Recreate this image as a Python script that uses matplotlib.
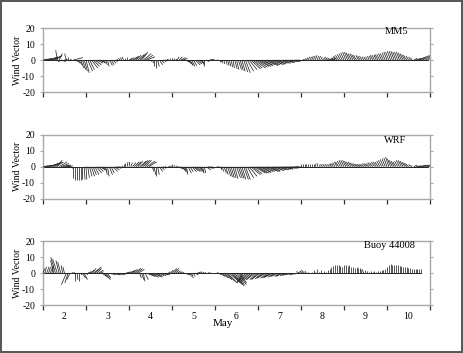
import numpy as np
import matplotlib
matplotlib.use("Agg")
import matplotlib.pyplot as plt
from matplotlib.patches import Rectangle
from matplotlib.collections import LineCollection

plt.rcParams['font.family'] = ['Liberation Serif', 'DejaVu Serif']

nan = np.nan
# hourly time axis, May day number, starting May 2 00:00
days = np.arange(2.0, 11.0, 1 / 24)

# ---------------- MM5 (one row per day, 24 hourly values) ----------------
mm5_u = [
    3, 4, 5, 5, 5, 5, 5, 4, -1, 2, 3, -3, 2, -1, 0, 1, 2, 6, 2, 2, 2, 2, 2, 2,
    2, 3, 3, 4, 4, 4, 4, 3, 2, 2, 1, 1, 1, 2, 2, 2, 2, -1, -1, -1, -1, -1, 0, 0,
    2, 2, 3, 3, 3, 4, 4, 4, 5, 5, 5, 2, 1, 1, 0, 0, 1, 2, 2, 2, 2, 1, 0, 0,
    0, 0.5, 1, 1, 2, 3, 3, 3, 3, 3, 2, 2, 2, 3, 3, 3, 2, 1, 0, 2, 3, 3, 3, 2,
    3, 2, 2, 0.5, 0.5, 0.5, 1, 1, 1, 1, 1, 1.5, 1.5, 2, 2, 2, 2.5, 3, 4, 5, 6, 6, 7, 7,
    7, 7, 7, 6, 6, 7, 6, 6, 6, 6, 6, 5, 5, 5, 5, 5, 5, 4, 4, 4, 4, 4, 3, 3,
    1, 1, 1, 1, 1, 1, 1, 1, 1, 1, 1, 1, 2, 2, 2, 3, 3, 3, -1, -1, -2, -2, -2, -2,
    -2, -2, -2, -2, -2, -2, -2, -2, -1.5, -1.5, -1.5, -1, -1, -1, -1, -1, -1.5, -1.5, -1.5, -2, -2, -2, -2, -2,
    -2, -2, -2, -2, -2, -2, -2, -2, -2, -2, -2, -2, -1.5, -1, -1, 2, 3, 3, 3, 3, 3, 3, 3, 3,
]
mm5_v = [
    0.5, 1, 1, 1.5, 2, 2, 2.5, 3, 6, 4, -1, -1, 0.5, 4, 2, 0.5, 0, 1.5, -1, -2, -3, -5, -6, -7,
    -8, -7, -6, -5, -4, -3, -2, -1, -1, -2, -2, -3, -4, -3.5, -3, -2, -1, 0, 0.5, 1, 1.5, 2, 1, 2,
    1, 1.5, 2, 2.5, 3, 3.5, 4, 5, 4, 3, 2, 0, -1, -2, -4, -5, -4, -3, -2, -1, -0.5, 0.5, 0.5, 1,
    1.5, 1, 0.5, 2, 2, 1.5, 1, -1, -2, -3, -3.5, -4, -3.5, -3, -2.5, -2, -2, -3, -4, -1, 0, 0.5, 0, 0,
    0, -0.5, -1, -1.5, -2, -2.5, -3, -3.5, -4, -4.5, -5, -5.5, -6, -6, -6.5, -7, -7.5, -8, -7, -6, -5.5, -5, -5, -4.5,
    -4, -4, -3.5, -3.5, -3, -3.5, -3, -3, -2.5, -3, -2.5, -2.5, -2, -2, -2, -1.5, -1.5, -1.5, -1, -1, -1, -0.5, -0.5, -0.5,
    0, 0.5, 1, 1.5, 2, 2, 2.5, 2.5, 3, 2.5, 2.5, 2, 2, 1.5, 1, 1, 0.5, 1, 1.5, 2, 2.5, 3, 3.5, 4,
    4.5, 5, 5, 4.5, 4, 4, 3.5, 3, 3, 2.5, 2.5, 2, 2, 2, 2.5, 2.5, 3, 3, 3, 3.5, 3.5, 4, 4, 4.5,
    5, 5, 5.5, 5.5, 5.5, 5, 5, 5, 4.5, 4, 3.5, 3, 2.5, 2, 1.5, 1, 1, 1, 1.5, 2, 2.5, 3, 3, 2.5,
]

# ---------------- WRF ----------------
wrf_u = [
    3, 4, 5, 5, 5, 5, 5, 5, 3, 5, 5, 4, 4, 3, 3, 3, 0, 0, 0, 0, 0, 0, 0, 0.5,
    0.5, 1, 1.5, 2, 2, 2.5, 3, 3, 3, 2, 2, 1, 1, 2, 2, 3, 3, 3, 3, 2, 1, 0, 0, 0.5,
    0.5, 1, 2, 3, 3, 3, 4, 4, 4, 4, 5, 5, 2, 1, 1, 0, 1, 2, 2, 2, 2, 2, 1, 1,
    0, 0.5, 1, 3, 3, 3, 2, 2, 1, 2, 2, 3, 3, 3, 3, 3, 2, 1, 1, 3, 3, 3, 2, 2,
    2, 2, 2, 1, 1, 1.5, 1.5, 2, 2, 2, 2, 2, 2.5, 2.5, 2.5, 2.5, 3, 3, 4, 5, 6, 6, 7, 7,
    7, 7, 6, 6, 6, 6, 6, 6, 5, 5, 5, 5, 5, 5, 5, 5, 4, 4, 4, 4, 4, 4, 4, 3,
    0, 0, 0, 0, 0, 0, 0, 0, 0.5, 0.5, 1, 1, 1, 1, 1, 1, 1, -1, -1, -1.5, -1.5, -2, -2, -2,
    -2, -2, -2, -2, -2, -2, -2, -2, -2, -2, -2, -2, -2, -2, -2, -2, -2, -2, -2, -2, -2, -2, -2, -2,
    -2, -2, -2, -2, -2, -2, -2, -2, -2, -2, -2, -2, -2, -1, -1, 2, 3, 3, 3, 3, 3, 3, 3, 3,
]
wrf_v = [
    0.5, 1, 1, 1.5, 2, 2.5, 3, 3, 4, 3, 2, 1, 1, 0.5, 0.5, 0, -1, -7, -8, -8, -8, -8, -7.5, -8,
    -8, -7, -6, -6, -5, -5, -4, -3, -2, -2, -3, -5, -6, -5, -4, -3, -2, -1, -0.5, 0, 0.5, 2, 2.5, 3,
    3, 2.5, 2.5, 3, 3, 3.5, 3.5, 4, 4, 4, 3.5, 3, -1, -3, -5, -6, -5, -3, -2, -1, -0.5, 0, 0.5, 0.5,
    1.5, 1, 0.5, -1, -1.5, -2, -3, -4, -5, -4, -3, -3, -2.5, -3, -3, -3, -3.5, -4, -4, -2, -1, -1, -0.5, 0,
    0, -0.5, -1, -2, -3, -4, -5, -6, -6.5, -7, -7, -7.5, -7, -7, -7.5, -8, -8, -8, -7, -6, -5, -4.5, -4, -4,
    -4, -3.5, -3.5, -3, -3, -2.5, -3, -3, -2.5, -2, -2.5, -2, -2, -2, -1.5, -1.5, -1.5, -1, -1, -1, -0.5, -0.5, -0.5, 0,
    2, 2, 2, 2, 2, 2, 2, 2, 2, 2, 1.5, 1.5, 1.5, 1.5, 1.5, 1.5, 1.5, 2, 2, 2.5, 3, 3, 3.5, 4,
    4, 4, 3.5, 3, 3, 2.5, 2, 2, 1.5, 1.5, 1.5, 1.5, 2, 2, 2, 2.5, 2.5, 3, 3, 3, 3.5, 4, 4.5, 5,
    5.5, 6, 5, 4, 3.5, 3, 3.5, 4, 4, 3.5, 3, 2.5, 2, 1.5, 1, 1, 0.5, 0.5, 0.5, 1, 1, 1, 1, 1,
]

# ---------------- Buoy 44008 ----------------
buoy_u = [
    1, 1, 1.5, 1.5, 2, 1, -2, -3, -3, -2, -2, -1, -1, -3, -2, -2, 1, 1, 0, 0.5, 0, 1, 2, 2,
    1, 2, 3, 3, 4, 4, 3, 3, 2, 3, 3, 3, 2, 2, 3, 3, 3, 3, 3, 3, 3, 3, 2, 2,
    3, 3, 3, 4, 4, 4, 1, 1.5, 1, 2, 4, 4, 4, 4, 4, 4, 3, 3, 3, 3, 3, 2, 1, 2,
    3, 3, 2, 2, 2, 2, 2, 2, 2, 2, 1, 1, 1, 2, 2, 1, 1, 1, 1, 2, 1, 0, 0, 1,
    1, 1, 2, 3, 4, 5, 6, 6, 7, 7, 6, 6, 5, 5, 4, -3, -4, -4, -4, -5, -4, -4, -5, -4,
    -4, -5, -4, -4, -5, -4, -4, -4, -5, -4, -4, -4, -3, -3, -4, -3, -3, -3, -3, -2, -2, -2, -2, -2,
    -3, -2, -2, -1, 0, 0, 0, 0, 0, 0, 0, 0, 0, 0, 0, 0, 0, 0, 0, 0, 0, 0, 0, 0,
    0, 0, 0, 0, 0, 0, 0, 0, 0, 0, -1, -1, 0, 0, 0, 0, 0, 0, 0, 0, 0, 0, 0, 0,
    0, 0, 0, 0, 0, 0, 0, 0, 0, 0, 0, 0, 0, 0, 0, 0, 0, 0, 0, 0, nan, nan, nan, nan,
]
buoy_v = [
    3, 4, 4, 4, 5, 4, 8, 10, 9, 8, 7, 5, 4, -7, -6, -4, 0.5, 0.5, -5, -4, -5, -1, -3, -4,
    -1, 1, 2, 3, 3, 4, 3, 2, 1, -2, -3, -4, -3, -0.5, -1, -0.5, -1, -1, -0.5, -1, -0.5, 0, 0.5, 1,
    1.5, 2, 2.5, 3, 3, 2.5, -3, -4, -5, -4, -1.5, -2, -2, -2.5, -2, -2.5, -2, -1.5, -1.5, -1, -1, -0.5, 1, 2,
    3, 3, 2, 1.5, 1, 0.5, 0, -0.5, -1, -1, -2, -3, -2, -1, 0.5, 1, 1, 0.5, 0.5, 0, 0.5, 1, 0.5, 0,
    0, 0.5, -1, -2, -3, -4, -5, -6, -6, -7, -7, -8, -7, -7, -6, -6, -6, -5, -5, -5, -4, -4, -4, -4,
    -4, -3.5, -3.5, -3, -3, -3, -3, -2.5, -2.5, -2.5, -2, -2, -2, -2, -1.5, -1.5, -1.5, -1, -1, -1, -1, -0.5, -0.5, 0,
    1, 1.5, 2, 1.5, 1, 0.5, 1, 2, 1, 2.5, 1, 2, 0.5, 1.5, 1, 2, 3, 4, 4.5, 5, 5, 5, 4.5, 4,
    5, 5, 4.5, 5, 4, 4, 3.5, 4, 3.5, 3, 3, 2.5, 2, 1.5, 1, 1.5, 1, 1.5, 1, 1.5, 1.5, 2, 2, 3,
    4, 5, 6, 5.5, 5.5, 5, 5, 4.5, 4.5, 4, 4, 4, 3.5, 3.5, 3, 3, 3, 3, 3, 3, nan, nan, nan, nan,
]

panels = [("MM5", mm5_u, mm5_v, 0.914, 0.94),
          ("WRF", wrf_u, wrf_v, 0.911, 0.917),
          ("Buoy 44008", buoy_u, buoy_v, 0.894, 0.93)]

day_ticks = np.arange(2, 12)
day_labels = [str(d) for d in range(2, 11)]

W, H = 464, 353
fig = plt.figure(figsize=(W / 100, H / 100), dpi=100)
fig.patch.set_facecolor('white')
fig.patches.append(Rectangle((0.003, 0.004), 0.992, 0.992, transform=fig.transFigure,
                             fill=False, edgecolor='#555555', lw=1.4))

left, width = 43 / W, 387 / W
tops = [28, 134.7, 241.3]
ph = 64
spine_col = '#a8a8a8'

for k, (name, u, v, tx, ty) in enumerate(panels):
    bottom = 1 - (tops[k] + ph) / H
    ax = fig.add_axes([left, bottom, width, ph / H])
    ax.set_xlim(2, 11)
    ax.set_ylim(-20, 20)
    # display-equal scaling: one wind unit horizontally = one wind unit vertically
    p0 = ax.transData.transform((2, 0))
    px = ax.transData.transform((3, 0))[0] - p0[0]
    py = ax.transData.transform((2, 1))[1] - p0[1]
    k_u = py / px
    u = np.asarray(u, float)
    v = np.asarray(v, float)
    ok = ~np.isnan(u)
    t = days[ok]
    segs = [[(ti, 0.0), (ti + ui * k_u, vi)] for ti, ui, vi in zip(t, u[ok], v[ok])]
    ax.add_collection(LineCollection(segs, colors='#262626', linewidths=0.55, zorder=3))
    ax.plot([t[0], t[-1]], [0, 0], color='black', lw=0.6, zorder=2)
    ax.set_yticks([-20, -10, 0, 10, 20])
    ax.set_yticklabels(['-20', '-10', '0', '10', '20'])
    ax.set_xticks(day_ticks)
    ax.set_xticklabels([])
    ax.tick_params(axis='x', which='major', direction='out', length=3.5,
                   width=0.9, color='#303030')
    ax.tick_params(axis='y', direction='out', length=2.2, width=0.8,
                   color=spine_col, labelsize=7, pad=3.5, right=True)
    if k == 2:
        ax.set_xticks(day_ticks[:-1] + 0.5, minor=True)
        ax.set_xticklabels(day_labels, minor=True)
        ax.tick_params(axis='x', which='minor', length=0, labelsize=7, pad=4.5)
    for s in ax.spines.values():
        s.set_color(spine_col)
        s.set_linewidth(1.0)
    ax.set_ylabel('Wind Vector', fontsize=7, labelpad=0)
    ax.text(tx, ty, name, transform=ax.transAxes, ha='center', va='center',
            fontsize=7.5)

fig.text(222.7 / W, 1 - 324 / H, 'May', ha='center', va='center', fontsize=8)

fig.savefig('out.png', dpi=100)
